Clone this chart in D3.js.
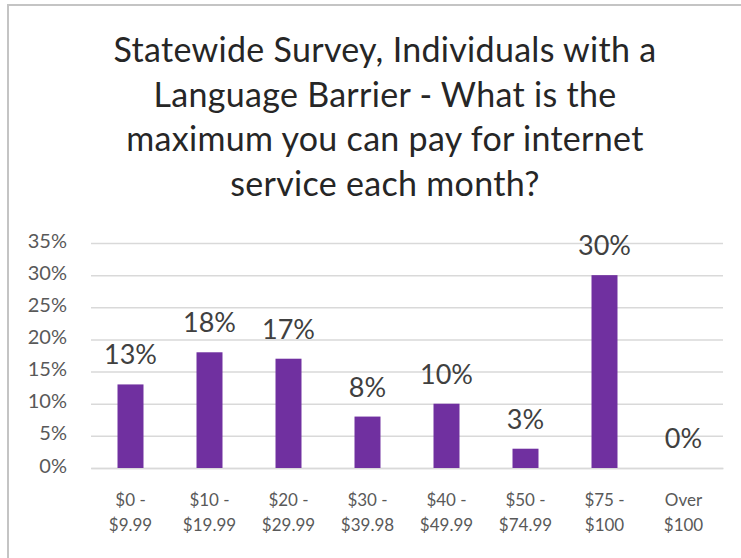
<!DOCTYPE html>
<html>
<head>
<meta charset="utf-8">
<script src="https://cdn.jsdelivr.net/npm/d3@7"></script>
<style>
  html, body { margin: 0; padding: 0; background: #fff; }
  svg { display: block; }
</style>
</head>
<body>
<svg id="chart" width="741" height="558"></svg>
<script>
// Survey answers: monthly budget for internet service
const titleLines = [
  "Statewide Survey, Individuals with a",
  "Language Barrier - What is the",
  "maximum you can pay for internet",
  "service each month?"
];
const categories = [
  "$0 -\n$9.99",
  "$10 -\n$19.99",
  "$20 -\n$29.99",
  "$30 -\n$39.98",
  "$40 -\n$49.99",
  "$50 -\n$74.99",
  "$75 -\n$100",
  "Over\n$100"
];
const shares = [13, 18, 17, 8, 10, 3, 30, 0];
const yTicks = [0, 5, 10, 15, 20, 25, 30, 35];

const W = 741, H = 558;
const plot = { left: 91, right: 723, top: 243, bottom: 468 };
const font = "Lato, 'Open Sans', sans-serif";

const svg = d3.select("#chart");

// chart frame (top and left edges visible)
svg.append("rect")
  .attr("x", 8).attr("y", 5)
  .attr("width", W + 20).attr("height", H + 20)
  .attr("fill", "#fff")
  .attr("stroke", "#c4c4c4")
  .attr("stroke-width", 2);

// title
svg.append("text")
  .attr("text-anchor", "middle")
  .attr("font-family", font)
  .attr("font-size", 34)
  .attr("letter-spacing", 0.3)
  .attr("fill", "#262626")
  .selectAll("tspan")
  .data(titleLines)
  .join("tspan")
  .attr("x", 385)
  .attr("y", (d, i) => 62 + i * 44.7)
  .text(d => d);

const x = d3.scaleBand()
  .domain(categories)
  .range([plot.left, plot.right])
  .paddingInner(0.671)
  .paddingOuter(0.3355);

const y = d3.scaleLinear()
  .domain([0, 35])
  .range([plot.bottom, plot.top]);

// value axis with gridlines
const yAxis = svg.append("g")
  .attr("transform", `translate(${plot.left},0)`)
  .call(d3.axisLeft(y)
    .tickValues(yTicks)
    .tickFormat(d => d + "%")
    .tickSize(-(plot.right - plot.left))
    .tickPadding(24));
yAxis.select(".domain").remove();
yAxis.selectAll(".tick line")
  .attr("stroke", "#d9d9d9")
  .attr("stroke-width", 1.5);
yAxis.selectAll(".tick text")
  .attr("font-family", font)
  .attr("font-size", 20)
  .attr("fill", "#595959")
  .attr("dy", "0.2em");

// category axis
const xAxis = svg.append("g")
  .attr("transform", `translate(0,${plot.bottom})`)
  .call(d3.axisBottom(x).tickSize(0).tickPadding(0));
xAxis.select(".domain")
  .attr("stroke", "#d9d9d9")
  .attr("stroke-width", 1.5);
xAxis.selectAll(".tick text").each(function(d) {
  const t = d3.select(this)
    .text(null)
    .attr("y", 0)
    .attr("dy", null)
    .attr("font-family", font)
    .attr("font-size", 17)
    .attr("fill", "#595959");
  d.split("\n").forEach((line, i) => {
    t.append("tspan")
      .attr("x", 0)
      .attr("y", 38 + i * 24.5)
      .text(line);
  });
});

// bars
svg.append("g")
  .selectAll("rect")
  .data(shares)
  .join("rect")
  .attr("x", (d, i) => x(categories[i]))
  .attr("y", d => y(d))
  .attr("width", x.bandwidth())
  .attr("height", d => y(0) - y(d))
  .attr("fill", "#7030a0");

// value labels
svg.append("g")
  .selectAll("text")
  .data(shares)
  .join("text")
  .attr("x", (d, i) => x(categories[i]) + x.bandwidth() / 2)
  .attr("y", d => y(d) - 20)
  .attr("text-anchor", "middle")
  .attr("font-family", font)
  .attr("font-size", 27)
  .attr("fill", "#404040")
  .text(d => d + "%");
</script>
</body>
</html>
